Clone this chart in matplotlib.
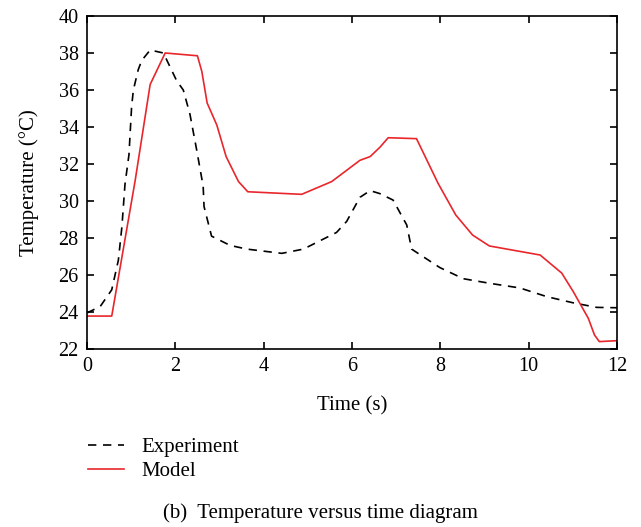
import matplotlib
matplotlib.use("Agg")
import matplotlib.pyplot as plt

plt.rcParams['font.family'] = ['Liberation Serif', 'DejaVu Serif']

exp_t = [0.0, 0.3, 0.56, 0.71, 0.79, 0.86, 0.95, 1.01, 1.05, 1.16, 1.24, 1.43, 1.73, 2.03,
         2.18, 2.33, 2.48, 2.63, 2.65, 2.82, 3.24, 3.62, 4.41, 4.9, 5.65, 5.88, 6.18, 6.41,
         6.63, 6.93, 7.24, 7.35, 7.54, 7.99, 8.52, 9.12, 9.8, 10.41, 11.0, 11.54, 12.0]
exp_T = [23.95, 24.3, 25.2, 26.8, 28.6, 30.9, 32.5, 35.1, 36.0, 37.1, 37.6, 38.16, 38.0, 36.5,
         36.0, 34.7, 32.8, 30.8, 29.7, 28.1, 27.6, 27.4, 27.17, 27.4, 28.3, 28.9, 30.2, 30.56,
         30.4, 30.05, 28.7, 27.4, 27.1, 26.4, 25.8, 25.55, 25.3, 24.83, 24.5, 24.25, 24.23]

mod_t = [0.0, 0.56, 1.09, 1.43, 1.77, 2.5, 2.6, 2.72, 2.94, 3.15, 3.43, 3.64, 4.86, 5.54,
         6.18, 6.41, 6.63, 6.82, 7.46, 7.95, 8.35, 8.73, 9.11, 10.26, 10.75, 11.01, 11.35,
         11.49, 11.6, 12.0]
mod_T = [23.78, 23.78, 31.1, 36.3, 38.0, 37.85, 37.0, 35.3, 34.1, 32.4, 31.05, 30.5, 30.36,
         31.05, 32.2, 32.4, 32.9, 33.42, 33.37, 30.95, 29.24, 28.16, 27.57, 27.08, 26.1, 25.1,
         23.66, 22.76, 22.4, 22.45]

xticks = [0, 2, 4, 6, 8, 10, 12]
yticks = [22, 24, 26, 28, 30, 32, 34, 36, 38, 40]

fig = plt.figure(figsize=(6.41, 5.27), dpi=100)
ax = fig.add_axes([87/641, 1-349/527, 530/641, 333/527])

l1, = ax.plot(exp_t, exp_T, color='black', linestyle=(0, (5, 4)), linewidth=1.2, label='Experiment')
l2, = ax.plot(mod_t, mod_T, color='#e8262b', linewidth=1.2, label='Model')

ax.set_xlim(0, 12)
ax.set_ylim(22, 40)
ax.set_xticks(xticks)
ax.set_yticks(yticks)
ax.tick_params(direction='in', top=True, right=True, length=5, width=1.2, labelsize=14.5, pad=6)
for s in ax.spines.values():
    s.set_linewidth(1.2)

ax.set_xlabel('Time (s)', fontsize=15, labelpad=14)
ax.set_ylabel('Temperature (°C)', fontsize=15, labelpad=14)

fig.legend(handles=[l1, l2], loc='upper left', bbox_to_anchor=(69/641, 1-419/527),
           frameon=False, fontsize=15, handlelength=1.75, labelspacing=0.2, handletextpad=0.8)

fig.text(320/641, 1-513/527, '(b)  Temperature versus time diagram', ha='center', va='center', fontsize=15)

fig.savefig('out.png', dpi=100)
